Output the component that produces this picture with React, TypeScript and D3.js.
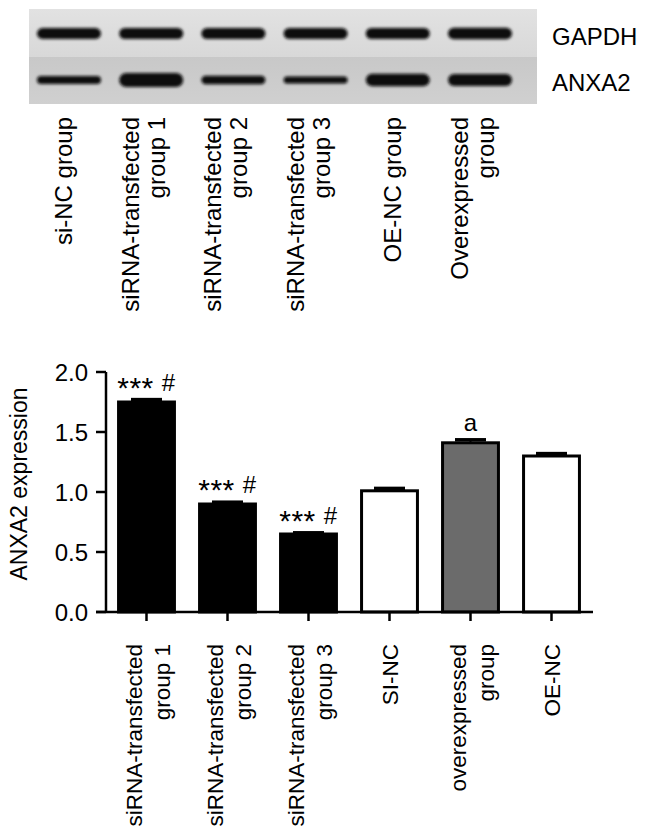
import * as d3 from "d3";

// western blot lanes (top panel)
const blotLanes = [
  ["si-NC group"],
  ["siRNA-transfected", "group 1"],
  ["siRNA-transfected", "group 2"],
  ["siRNA-transfected", "group 3"],
  ["OE-NC group"],
  ["Overexpressed", "group"],
];
const blotRows = ["GAPDH", "ANXA2"];
// band thickness read from the blot (relative units)
const gapdhSignal = [0.78, 0.8, 0.8, 0.8, 0.8, 0.82];
const anxa2Signal = [0.58, 1.0, 0.6, 0.5, 0.88, 0.85];

// bar chart (bottom panel)
const groups = [
  ["siRNA-transfected", "group 1"],
  ["siRNA-transfected", "group 2"],
  ["siRNA-transfected", "group 3"],
  ["SI-NC"],
  ["overexpressed", "group"],
  ["OE-NC"],
];
const expression = [1.75, 0.9, 0.65, 1.01, 1.41, 1.3];
const errors = [0.02, 0.015, 0.01, 0.02, 0.025, 0.02];
const fills = ["#000000", "#000000", "#000000", "#ffffff", "#6b6b6b", "#ffffff"];
const stars = ["***", "***", "***", "", "", ""];
const signs = ["#", "#", "#", "", "a", ""];
const yTicks = [0, 0.5, 1, 1.5, 2];

const W = 646;
const H = 838;
const font = "'Liberation Sans', Arial, Helvetica, sans-serif";

export default function App() {
  // blot geometry
  const blot = { x0: 29, x1: 537, y0: 9, mid: 57, y1: 104 };
  const lane = d3.scalePoint<number>().domain(d3.range(6)).range([69, 480]);
  const bandH = d3.scaleLinear().domain([0, 1]).range([0, 14]);
  const rowY = [33.5, 80];
  const bandW = 64;

  // chart geometry
  const x = d3
    .scaleBand<number>()
    .domain(d3.range(groups.length))
    .range([106, 592])
    .paddingInner(0.31)
    .paddingOuter(0.155);
  const y = d3.scaleLinear().domain([0, 2]).range([612, 372]);
  const fmt = d3.format(".1f");

  return (
    <svg
      width={W}
      height={H}
      style={{ position: "absolute", left: 0, top: 0, display: "block", background: "#fff" }}
      fontFamily={font}
    >
      <defs>
        <filter id="blur" x="-20%" y="-80%" width="140%" height="260%">
          <feGaussianBlur stdDeviation="1.8" />
        </filter>
        <linearGradient id="topStrip" x1="0" x2="0" y1="0" y2="1">
          <stop offset="0" stopColor="#e2e2e2" />
          <stop offset="1" stopColor="#d8d8d8" />
        </linearGradient>
        <linearGradient id="botStrip" x1="0" x2="0" y1="0" y2="1">
          <stop offset="0" stopColor="#c8c8c8" />
          <stop offset="1" stopColor="#d0d0d0" />
        </linearGradient>
      </defs>

      {/* blot */}
      <rect x={blot.x0} y={blot.y0} width={blot.x1 - blot.x0} height={blot.mid - blot.y0} fill="url(#topStrip)" />
      <rect x={blot.x0} y={blot.mid} width={blot.x1 - blot.x0} height={blot.y1 - blot.mid} fill="url(#botStrip)" />
      <g filter="url(#blur)" fill="#0d0d0d">
        {[gapdhSignal, anxa2Signal].map((sig, r) =>
          sig.map((s, i) => {
            const h = bandH(s);
            return (
              <rect
                key={`${r}-${i}`}
                x={(lane(i) ?? 0) - bandW / 2}
                y={rowY[r] - h / 2}
                width={bandW}
                height={h}
                rx={h / 2}
              />
            );
          })
        )}
      </g>
      {blotRows.map((name, r) => (
        <text key={name} x={552} y={rowY[r] + 11} fontSize={24} fill="#000">
          {name}
        </text>
      ))}
      {blotLanes.map((lines, i) => {
        const cx = lane(i) ?? 0;
        const offs = lines.length === 1 ? [3] : [-12, 14];
        return lines.map((t, k) => (
          <text
            key={`${i}-${k}`}
            transform={`translate(${cx + offs[k]},117) rotate(-90)`}
            textAnchor="end"
            fontSize={24}
            fill="#000"
          >
            {t}
          </text>
        ));
      })}

      {/* bars */}
      {expression.map((v, i) => {
        const bx = x(i) ?? 0;
        const cx = bx + x.bandwidth() / 2;
        const top = y(v + errors[i]);
        return (
          <g key={i}>
            <line x1={cx} x2={cx} y1={y(v)} y2={top} stroke="#000" strokeWidth={2} />
            <line x1={cx - 15.5} x2={cx + 15.5} y1={top} y2={top} stroke="#000" strokeWidth={3.5} />
            <rect
              x={bx}
              y={y(v)}
              width={x.bandwidth()}
              height={y(0) - y(v)}
              fill={fills[i]}
              stroke="#000"
              strokeWidth={3}
            />
            {stars[i] && (
              <text x={cx - 11} y={top - 2} textAnchor="middle" fontSize={30} letterSpacing={0.5} fill="#000">
                {stars[i]}
              </text>
            )}
            {signs[i] && (
              <text
                x={stars[i] ? cx + 22 : cx}
                y={top - 9}
                textAnchor="middle"
                fontSize={24}
                fill="#000"
              >
                {signs[i]}
              </text>
            )}
          </g>
        );
      })}

      {/* y axis */}
      <line x1={106} x2={106} y1={y(2)} y2={y(0)} stroke="#000" strokeWidth={2.5} />
      {yTicks.map((t) => (
        <g key={t}>
          <line x1={96} x2={106} y1={y(t)} y2={y(t)} stroke="#000" strokeWidth={2.5} />
          <text x={88} y={y(t)} dy="0.36em" textAnchor="end" fontSize={24} fill="#000">
            {fmt(t)}
          </text>
        </g>
      ))}
      <text
        transform={`translate(26.5,${(y(0) + y(2)) / 2 - 8}) rotate(-90)`}
        textAnchor="middle"
        fontSize={23}
        fill="#000"
      >
        ANXA2 expression
      </text>

      {/* x axis */}
      <line x1={96} x2={593} y1={y(0)} y2={y(0)} stroke="#000" strokeWidth={2.5} />
      {groups.map((lines, i) => {
        const cx = (x(i) ?? 0) + x.bandwidth() / 2;
        const offs = lines.length === 1 ? [8] : [-5, 23];
        return (
          <g key={i}>
            <line x1={cx} x2={cx} y1={y(0)} y2={y(0) + 9} stroke="#000" strokeWidth={2.5} />
            {lines.map((t, k) => (
              <text
                key={k}
                transform={`translate(${cx + offs[k]},644) rotate(-90)`}
                textAnchor="end"
                fontSize={22.5}
                fill="#000"
              >
                {t}
              </text>
            ))}
          </g>
        );
      })}
    </svg>
  );
}
